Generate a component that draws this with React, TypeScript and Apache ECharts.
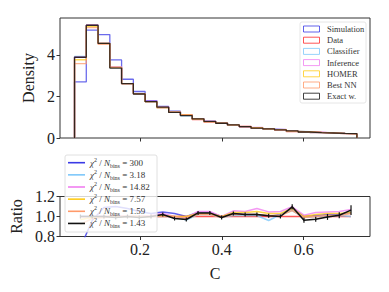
import React, { useEffect, useRef } from "react";
import * as echarts from "echarts";

const binEdges = [0.04, 0.06875, 0.0975, 0.12625, 0.155, 0.18375, 0.2125, 0.24125, 0.27, 0.29875, 0.3275, 0.35625, 0.385, 0.41375, 0.4425, 0.47125, 0.5, 0.52875, 0.5575, 0.58625, 0.615, 0.64375, 0.6725, 0.70125, 0.73];

const simulation = [2.70, 5.20, 4.98, 3.76, 2.83, 2.24, 1.80, 1.52, 1.29, 1.11, 0.93, 0.80, 0.72, 0.63, 0.55, 0.48, 0.43, 0.40, 0.335, 0.30, 0.27, 0.245, 0.22, 0.205];
const dataHist = [3.89, 5.43, 4.56, 3.40, 2.62, 2.14, 1.75, 1.46, 1.25, 1.11, 0.89, 0.77, 0.72, 0.61, 0.54, 0.47, 0.43, 0.39, 0.31, 0.30, 0.265, 0.24, 0.215, 0.197];
const classifier = [3.93, 5.43, 4.56, 3.40, 2.62, 2.14, 1.75, 1.46, 1.25, 1.07, 0.91, 0.785, 0.71, 0.615, 0.545, 0.475, 0.415, 0.40, 0.33, 0.30, 0.265, 0.24, 0.217, 0.197];
const inference = [3.89, 5.43, 4.56, 3.43, 2.62, 2.14, 1.77, 1.50, 1.25, 1.10, 0.935, 0.81, 0.72, 0.645, 0.57, 0.51, 0.45, 0.41, 0.34, 0.305, 0.276, 0.25, 0.226, 0.21];
const homer = [3.77, 5.38, 4.56, 3.40, 2.62, 2.14, 1.75, 1.47, 1.25, 1.11, 0.915, 0.79, 0.72, 0.635, 0.56, 0.495, 0.443, 0.40, 0.335, 0.30, 0.27, 0.247, 0.221, 0.205];
const bestNN = [3.58, 5.32, 4.51, 3.40, 2.62, 2.14, 1.75, 1.46, 1.25, 1.09, 0.91, 0.785, 0.71, 0.62, 0.55, 0.48, 0.434, 0.394, 0.33, 0.297, 0.265, 0.242, 0.217, 0.203];
const exactW = [3.89, 5.43, 4.56, 3.37, 2.62, 2.12, 1.75, 1.49, 1.23, 1.08, 0.92, 0.80, 0.71, 0.63, 0.55, 0.48, 0.44, 0.39, 0.34, 0.29, 0.26, 0.24, 0.22, 0.21];

const ratioSimulation = [0.69, 0.96, 1.09, 1.10, 1.08, 1.05, 1.03, 1.045, 1.03, 1.0, 1.04, 1.04, 1.0, 1.03, 1.02, 1.02, 1.0, 1.02, 1.08, 1.0, 1.01, 1.02, 1.02, 1.04];
const ratioData = [1, 1, 1, 1, 1, 1, 1, 1, 1, 1, 1, 1, 1, 1, 1, 1, 1, 1, 1, 1, 1, 1, 1, 1];
const ratioClassifier = [1.01, 1.0, 1.0, 1.0, 1.0, 1.0, 1.0, 1.0, 1.0, 0.965, 1.02, 1.02, 0.99, 1.01, 1.01, 1.01, 0.96, 1.02, 1.06, 0.99, 1.0, 1.0, 1.01, 1.0];
const ratioInference = [1.0, 1.0, 1.0, 1.01, 1.0, 1.0, 1.01, 1.03, 1.0, 0.99, 1.05, 1.05, 1.0, 1.057, 1.05, 1.08, 1.046, 1.05, 1.097, 1.013, 1.04, 1.046, 1.05, 1.07];
const ratioHomer = [0.97, 0.99, 1.0, 1.0, 1.0, 1.0, 1.0, 1.01, 1.0, 1.0, 1.03, 1.03, 1.0, 1.04, 1.04, 1.05, 1.03, 1.03, 1.08, 1.0, 1.02, 1.03, 1.03, 1.04];
const ratioBestNN = [0.92, 0.98, 0.99, 1.0, 1.0, 1.0, 1.0, 1.0, 1.0, 0.98, 1.02, 1.02, 0.99, 1.02, 1.02, 1.02, 1.01, 1.01, 1.06, 0.99, 1.0, 1.01, 1.01, 1.03];
const ratioExact = [1.0, 1.0, 1.0, 0.99, 1.0, 0.99, 1.0, 1.02, 0.98, 0.97, 1.036, 1.036, 0.99, 1.03, 1.02, 1.02, 1.008, 1.0, 1.097, 0.963, 0.973, 0.996, 1.013, 1.064];
const ratioExactErr = [0.02, 0.02, 0.02, 0.02, 0.02, 0.02, 0.02, 0.02, 0.02, 0.02, 0.02, 0.02, 0.02, 0.02, 0.02, 0.02, 0.02, 0.02, 0.025, 0.025, 0.025, 0.03, 0.03, 0.05];

const names = ["Simulation", "Data", "Classifier", "Inference", "HOMER", "Best NN", "Exact w."];
const chiLabels = ["300", "3.18", "14.82", "7.57", "1.59", "1.43"];
const xTicks = [0.2, 0.4, 0.6];
const densityTicks = [0, 2, 4];
const ratioTicks = [0.8, 1.0, 1.2];

const colors = ["#3a3ae6", "#ff2a2a", "#7ec8fa", "#f07ff0", "#ffcc1a", "#ff9a6a", "#111111"];
const FONT = "Liberation Serif";

export default function App() {
  const ref = useRef<HTMLDivElement>(null);
  useEffect(() => {
    document.body.style.margin = "0";
    const chart = echarts.init(ref.current!, null, { renderer: "svg" });
    const hists = [simulation, dataHist, classifier, inference, homer, bestNN, exactW];
    const ratios = [ratioSimulation, ratioData, ratioClassifier, ratioInference, ratioHomer, ratioBestNN, ratioExact];
    const centers = binEdges.slice(0, -1).map((e, i) => (e + binEdges[i + 1]) / 2);
    const stepData = (h: number[]) => {
      const pts: number[][] = [[binEdges[0], 0]];
      h.forEach((v, i) => {
        pts.push([binEdges[i], v]);
        pts.push([binEdges[i + 1], v]);
      });
      pts.push([binEdges[binEdges.length - 1], 0]);
      return pts;
    };
    const series: any[] = [];
    hists.forEach((h, k) => {
      series.push({
        type: "line",
        name: names[k],
        xAxisIndex: 0,
        yAxisIndex: 0,
        data: stepData(h),
        showSymbol: false,
        symbol: "none",
        lineStyle: { color: colors[k], width: 1.3, opacity: k === 6 ? 0.85 : 0.75 },
        z: 2 + k,
      });
    });
    ratios.forEach((r, k) => {
      series.push({
        type: "line",
        name: names[k] + " ratio",
        xAxisIndex: 1,
        yAxisIndex: 1,
        data: r.map((v, i) => [centers[i], v]),
        showSymbol: k === 6,
        symbol: k === 6 ? "rect" : "none",
        symbolSize: k === 6 ? (_v: any, p: any) => [1.2, ratioExactErr[p.dataIndex] * 2 * 99] : 0,
        itemStyle: { color: colors[k] },
        lineStyle: { color: colors[k], width: 1.5, opacity: k === 6 ? 1 : 0.8 },
        clip: true,
        z: 2 + k,
      });
    });

    const axisText = { fontFamily: FONT, fontSize: 16, color: "#222" };
    const graphics: any[] = [];
    // top legend
    graphics.push({
      type: "rect",
      shape: { x: 300, y: 22, width: 66, height: 81, r: 2 },
      style: { fill: "rgba(255,255,255,0.8)", stroke: "#e6e6e6", lineWidth: 1 },
      z: 100,
    });
    names.forEach((n, k) => {
      const y = 29 + k * 11.2;
      graphics.push({
        type: "rect",
        shape: { x: 303.5, y: y - 3, width: 16, height: 6 },
        style: { fill: "none", stroke: colors[k], lineWidth: 1, opacity: 0.8 },
        z: 101,
      });
      graphics.push({
        type: "text",
        x: 327,
        y,
        style: { text: n, fontFamily: FONT, fontSize: 8.5, fill: "#333", verticalAlign: "middle", align: "left" },
        z: 101,
      });
    });
    // bottom legend
    graphics.push({
      type: "rect",
      shape: { x: 65, y: 155, width: 92, height: 77, r: 2 },
      style: { fill: "rgba(255,255,255,0.8)", stroke: "#e0e0e0", lineWidth: 1 },
      z: 100,
    });
    const legColors = [colors[0], colors[2], colors[3], colors[4], colors[5], colors[6]];
    chiLabels.forEach((c, k) => {
      const y = 162.7 + k * 12.15;
      graphics.push({
        type: "line",
        shape: { x1: 68, y1: y, x2: 85, y2: y },
        style: { stroke: legColors[k], lineWidth: 1.6 },
        z: 101,
      });
      graphics.push({
        type: "text",
        x: 90,
        y,
        style: {
          text: "{i|χ}{sup|2}{m| / }{i|N}{sub|bins}{m| = " + c + "}",
          fontFamily: FONT,
          fill: "#333",
          verticalAlign: "middle",
          align: "left",
          rich: {
            i: { fontFamily: FONT, fontSize: 9, fontStyle: "italic", fill: "#333", lineHeight: 12, verticalAlign: "middle" },
            m: { fontFamily: FONT, fontSize: 9, fill: "#333", lineHeight: 12, verticalAlign: "middle" },
            sup: { fontFamily: FONT, fontSize: 6, fill: "#333", lineHeight: 6, verticalAlign: "top" },
            sub: { fontFamily: FONT, fontSize: 6, fill: "#333", lineHeight: 6, verticalAlign: "bottom" },
          },
        },
        z: 101,
      });
    });

    chart.setOption({
      animation: false,
      backgroundColor: "#fff",
      grid: [
        { left: 60, top: 18, width: 310, height: 120, show: true, borderColor: "#333", borderWidth: 1, backgroundColor: "transparent" },
        { left: 60, top: 196.5, width: 310, height: 40, show: true, borderColor: "#333", borderWidth: 1, backgroundColor: "transparent" },
      ],
      xAxis: [
        {
          type: "value", gridIndex: 0, min: 0.0045, max: 0.762,
          axisLine: { show: false },
          axisTick: { show: true, customValues: xTicks, length: 3.5, lineStyle: { color: "#333" } },
          axisLabel: { show: false, customValues: xTicks },
          splitLine: { show: false },
        },
        {
          type: "value", gridIndex: 1, min: 0.0045, max: 0.762,
          name: "C", nameLocation: "middle", nameGap: 29, nameTextStyle: axisText,
          axisLine: { show: false },
          axisTick: { show: true, customValues: xTicks, length: 3.5, lineStyle: { color: "#333" } },
          axisLabel: { show: true, customValues: xTicks, ...axisText, margin: 5, formatter: (v: number) => v.toFixed(1) },
          splitLine: { show: false },
        },
      ],
      yAxis: [
        {
          type: "value", gridIndex: 0, min: 0, max: 5.78,
          name: "Density", nameLocation: "middle", nameGap: 23, nameTextStyle: axisText,
          axisLine: { show: false },
          axisTick: { show: true, customValues: densityTicks, length: 3.5, lineStyle: { color: "#333" } },
          axisLabel: { show: true, customValues: densityTicks, ...axisText, margin: 5 },
          splitLine: { show: false },
        },
        {
          type: "value", gridIndex: 1, min: 0.8, max: 1.2,
          name: "Ratio", nameLocation: "middle", nameGap: 35, nameTextStyle: axisText,
          axisLine: { show: false },
          axisTick: { show: true, customValues: ratioTicks, length: 3.5, lineStyle: { color: "#333" } },
          axisLabel: { show: true, customValues: ratioTicks, ...axisText, margin: 5, formatter: (v: number) => v.toFixed(1) },
          splitLine: { show: false },
        },
      ],
      series,
      graphic: graphics,
    });
    return () => chart.dispose();
  }, []);
  return <div ref={ref} style={{ width: 389, height: 292 }} />;
}
